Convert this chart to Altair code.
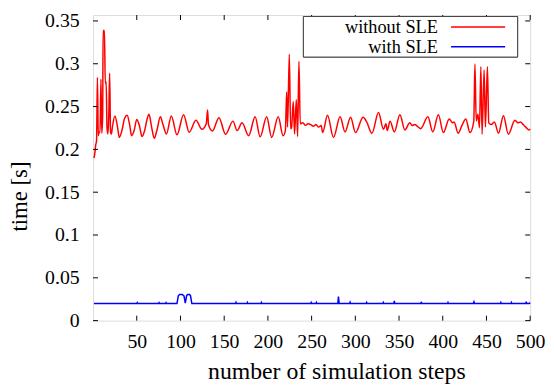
import altair as alt
import pandas as pd

# ---- data ----
red_x = [1, 2, 3, 4, 5, 6, 7, 8, 9, 10, 11, 11.5, 13, 14, 15, 16, 17, 18, 19, 20, 21, 22,
         25, 28, 30, 33, 36, 39, 42, 44, 47, 50, 53, 56, 59, 62, 64, 67, 70, 73, 77, 80, 84,
         89.5, 96, 103.5, 110, 117.7, 124.5, 129.5, 131, 132, 136.6, 144, 151.6, 160, 164.8,
         170.4, 178, 185.4, 191.1, 198.6, 204.3, 211.8, 217.4, 220, 221.5, 222.5, 224.5, 226,
         227, 229, 230.5, 232.5, 234, 235.5, 237, 240, 243, 246, 249, 252, 255, 258, 261,
         262.6, 268.2, 275, 282.6, 288.2, 294.6, 300.2, 308.9, 313, 319, 326.5, 332.2, 335,
         336.5, 339.7, 344.6, 351, 356.7, 362.3, 365, 368, 371, 374.7, 383, 388.6, 395, 400.7,
         407.4, 411.2, 413, 417.6, 422, 426.3, 431.2, 435.5, 436.8, 438.3, 440.2, 442, 443.6,
         445, 447.3, 448.8, 451.1, 452.6, 455.5, 459, 463.8, 469.4, 475, 482.6, 486, 489, 492,
         495, 498.9, 500]
red_y = [0.19, 0.195, 0.205, 0.21, 0.284, 0.216, 0.22, 0.22, 0.282, 0.219, 0.24, 0.339, 0.339,
         0.277, 0.279, 0.225, 0.218, 0.24, 0.289, 0.22, 0.218, 0.225,
         0.239, 0.226, 0.214, 0.222, 0.236, 0.24, 0.228, 0.216, 0.222, 0.235, 0.228, 0.215,
         0.222, 0.236, 0.241, 0.226, 0.213, 0.222, 0.238, 0.229, 0.218,
         0.239, 0.217, 0.2405, 0.22, 0.234, 0.2235, 0.23, 0.246, 0.229, 0.2215, 0.237, 0.2177,
         0.233, 0.222,
         0.231, 0.216, 0.238, 0.2147, 0.238, 0.2139, 0.238, 0.216, 0.222, 0.267, 0.226, 0.311,
         0.224,
         0.225, 0.256, 0.218, 0.258, 0.215, 0.303, 0.23, 0.231, 0.228, 0.23, 0.229, 0.227,
         0.229, 0.226, 0.228,
         0.2196, 0.2398, 0.2139, 0.238, 0.2204, 0.2375, 0.2196, 0.2375, 0.232, 0.2188, 0.2432,
         0.2235, 0.23,
         0.222, 0.233, 0.2204, 0.2405, 0.2227, 0.231, 0.228, 0.229, 0.227, 0.2242, 0.238,
         0.2204, 0.2405, 0.2196,
         0.2356, 0.231, 0.232, 0.2188, 0.228, 0.2356, 0.2196, 0.233, 0.2997, 0.233, 0.241,
         0.2253, 0.2966,
         0.2177, 0.2928, 0.226, 0.2966, 0.231, 0.229, 0.232, 0.2188, 0.2394, 0.2177, 0.234,
         0.231, 0.232, 0.229,
         0.226, 0.2227, 0.224]

blue_x = [1, 50, 50.5, 51, 75, 75.5, 76, 83, 83.5, 84, 96, 97.5, 99, 102, 104, 105.5, 107, 108,
          110.5, 111.5, 113, 163, 163.5, 164, 176, 176.5, 177, 192, 192.5, 193, 249, 249.5, 250,
          255, 255.5, 256, 280, 280.7, 281.5, 293.5, 294, 294.5, 312.5, 313, 313.5, 331.5, 332,
          332.5, 344, 344.6, 345.2, 375, 375.4, 376, 405.5, 406, 406.5, 435, 435.7, 436.3,
          466, 466.5, 467, 478, 478.5, 479, 495, 495.5, 496, 499, 500]
blue_y = [0.02, 0.02, 0.021, 0.02, 0.02, 0.021, 0.02, 0.02, 0.021, 0.02, 0.02, 0.029, 0.0305,
          0.0305, 0.029, 0.0205, 0.029, 0.0305, 0.0305, 0.029, 0.02, 0.02, 0.0213, 0.02, 0.02,
          0.0212, 0.02, 0.02, 0.0212, 0.02, 0.02, 0.0212, 0.02, 0.02, 0.0212, 0.02, 0.02, 0.0282,
          0.02, 0.02, 0.0215, 0.02, 0.02, 0.0212, 0.02, 0.02, 0.0212, 0.02, 0.02, 0.023, 0.02,
          0.02, 0.022, 0.02, 0.02, 0.0212, 0.02, 0.02, 0.022, 0.02, 0.02, 0.0212, 0.02, 0.02,
          0.0212, 0.02, 0.02, 0.022, 0.02, 0.02, 0.021]

series_names = ["without SLE", "with SLE"]
series_colors = ["#ff0000", "#0000ff"]
x_ticks = [50, 100, 150, 200, 250, 300, 350, 400, 450, 500]
y_ticks = [0, 0.05, 0.1, 0.15, 0.2, 0.25, 0.3, 0.35]

FONT = "Liberation Serif"
W, H = 442, 309
TOP = 5  # plot top = 8 + TOP

red_df = pd.DataFrame({"step": red_x, "time": red_y})
blue_df = pd.DataFrame({"step": blue_x, "time": blue_y})
xt_df = pd.DataFrame({"v": x_ticks})
yt_df = pd.DataFrame({"v": y_ticks})

xs = alt.Scale(domain=[0, 500], nice=False, zero=False)
ys = alt.Scale(domain=[0, 0.3569], nice=False)

x_enc = alt.X("step:Q", scale=xs, axis=alt.Axis(
    values=x_ticks, title="number of simulation steps", grid=False, domain=False,
    ticks=False, labelFont=FONT, labelFontSize=20, labelColor="black", labelPadding=11,
    labelOverlap=False, labelBound=False, labelFlush=False,
    titleFont=FONT, titleFontSize=24, titleFontWeight="normal", titleColor="black",
    titleX=246, titleY=52, titleBaseline="middle", titleAlign="center"))
y_enc = alt.Y("time:Q", scale=ys, axis=alt.Axis(
    values=y_ticks, format="~g", title="time [s]", grid=False, domain=False, ticks=False,
    labelFont=FONT, labelFontSize=20, labelColor="black", labelPadding=14,
    labelOverlap=False, labelFlush=False,
    titleFont=FONT, titleFontSize=23, titleFontWeight="normal", titleColor="black",
    titleAngle=270, titleX=-74, titleY=183, titleBaseline="middle", titleAlign="center"))

red_line = alt.Chart(red_df).mark_line(color=series_colors[0], strokeWidth=1.5,
                                       interpolate="monotone").encode(x=x_enc, y=y_enc)
blue_line = alt.Chart(blue_df).mark_line(color=series_colors[1], strokeWidth=1.5).encode(
    x=alt.X("step:Q", scale=xs), y=alt.Y("time:Q", scale=ys))

tick_len = 5
bx = alt.Chart(xt_df).mark_rule(color="black", strokeWidth=1).encode(
    x=alt.X("v:Q", scale=xs), y=alt.value(H), y2=alt.value(H - tick_len))
tx = alt.Chart(xt_df).mark_rule(color="black", strokeWidth=1).encode(
    x=alt.X("v:Q", scale=xs), y=alt.value(0), y2=alt.value(tick_len))
ly = alt.Chart(yt_df).mark_rule(color="black", strokeWidth=1).encode(
    y=alt.Y("v:Q", scale=ys), x=alt.value(0), x2=alt.value(tick_len))
ry = alt.Chart(yt_df).mark_rule(color="black", strokeWidth=1).encode(
    y=alt.Y("v:Q", scale=ys), x=alt.value(W), x2=alt.value(W - tick_len))

# legend (gnuplot style: label left, line sample right)
leg_df = pd.DataFrame({"name": series_names})
box = alt.Chart(leg_df).mark_rect(fill="white", stroke="#444444", strokeWidth=1).encode(
    x=alt.value(212.7), x2=alt.value(429.3), y=alt.value(1.5), y2=alt.value(42.5))
legend_layers = [box]
for i, (nm, col) in enumerate(zip(series_names, series_colors)):
    yy = 12 + 20 * i
    d = pd.DataFrame({"name": [nm]})
    legend_layers.append(alt.Chart(d).mark_text(
        align="right", baseline="middle", font=FONT, fontSize=18.5, color="black").encode(
        text="name:N", x=alt.value(348.7), y=alt.value(yy)))
    legend_layers.append(alt.Chart(d).mark_rule(color=col, strokeWidth=1.5).encode(
        x=alt.value(362), x2=alt.value(416.7), y=alt.value(yy)))

chart = alt.layer(red_line, blue_line, bx, tx, ly, ry, *legend_layers).properties(
    width=W, height=H,
    autosize=alt.AutoSizeParams(type="none"),
    padding={"left": 86, "top": TOP, "right": 16, "bottom": 66},
).configure_view(stroke="black", strokeWidth=1.2).configure(background="white")

chart.save("out.html", embed_options={"renderer": "svg", "actions": False})
